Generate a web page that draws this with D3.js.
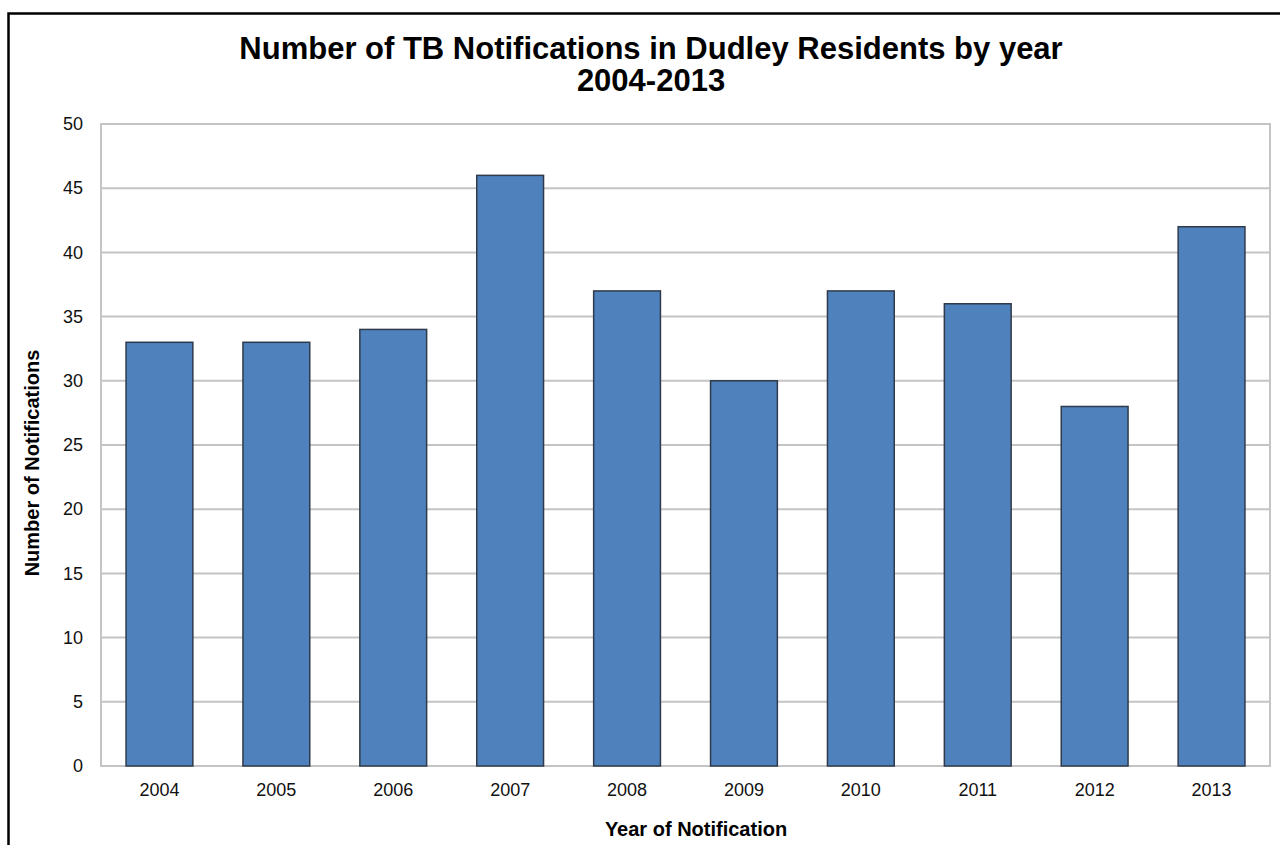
<!DOCTYPE html>
<html>
<head>
<meta charset="utf-8">
<script src="https://cdn.jsdelivr.net/npm/d3@7"></script>
<style>
  body { margin: 0; background: #fff; }
  text { font-family: "Liberation Sans", Arial, sans-serif; }
</style>
</head>
<body>
<script>
(function(){

//chart data
var years = ["2004", "2005", "2006", "2007", "2008", "2009", "2010", "2011", "2012", "2013"];
var notifications = [33, 33, 34, 46, 37, 30, 37, 36, 28, 42];
var yTicks = [0, 5, 10, 15, 20, 25, 30, 35, 40, 45, 50];
var titleLines = ["Number of TB Notifications in Dudley Residents by year", "2004-2013"];

var width = 1280, height = 845;
var plot = {left: 101, top: 124, right: 1270, bottom: 766};

var svg = d3.select("body").append("svg")
    .attr("width", width)
    .attr("height", height);

//outer frame (only left and top edges visible in the picture)
svg.append("rect")
    .attr("x", 8.5).attr("y", 13.5)
    .attr("width", 1300).attr("height", 900)
    .attr("fill", "none")
    .attr("stroke", "#000")
    .attr("stroke-width", 2.5);

//scales
var x = d3.scaleBand()
    .domain(years)
    .range([plot.left, plot.right])
    .paddingInner(0.4286)
    .paddingOuter(0.2143);

var y = d3.scaleLinear()
    .domain([0, 50])
    .range([plot.bottom, plot.top]);

//gridlines
svg.append("g")
    .selectAll("line")
    .data(yTicks)
    .enter()
    .append("line")
    .attr("x1", plot.left).attr("x2", plot.right)
    .attr("y1", function(d){ return y(d); })
    .attr("y2", function(d){ return y(d); })
    .attr("stroke", "#c4c4c4")
    .attr("stroke-width", 2);

//plot border
svg.append("rect")
    .attr("x", plot.left).attr("y", plot.top)
    .attr("width", plot.right - plot.left)
    .attr("height", plot.bottom - plot.top)
    .attr("fill", "none")
    .attr("stroke", "#c4c4c4")
    .attr("stroke-width", 2);

//bars
svg.append("g")
    .selectAll("rect")
    .data(notifications)
    .enter()
    .append("rect")
    .attr("x", function(d, i){ return x(years[i]); })
    .attr("y", function(d){ return y(d); })
    .attr("width", x.bandwidth())
    .attr("height", function(d){ return y(0) - y(d); })
    .attr("fill", "#4f81bd")
    .attr("stroke", "#2f3b4a")
    .attr("stroke-width", 1.5);

//y axis labels
var yAxis = d3.axisLeft(y)
    .tickValues(yTicks)
    .tickSize(0)
    .tickPadding(18);
var gy = svg.append("g")
    .attr("transform", "translate(" + plot.left + ",0)")
    .call(yAxis);
gy.select(".domain").remove();
gy.selectAll("text")
    .attr("font-size", 18)
    .attr("fill", "#111")
    .style("font-family", "'Liberation Sans', Arial, sans-serif");

//x axis labels
var xAxis = d3.axisBottom(x).tickSize(0).tickPadding(17);
var gx = svg.append("g")
    .attr("transform", "translate(0," + plot.bottom + ")")
    .call(xAxis);
gx.select(".domain").remove();
gx.selectAll("text")
    .attr("font-size", 18)
    .attr("fill", "#111")
    .style("font-family", "'Liberation Sans', Arial, sans-serif");

//title
svg.selectAll(".title")
    .data(titleLines)
    .enter()
    .append("text")
    .attr("class", "title")
    .attr("x", 651)
    .attr("y", function(d, i){ return 59 + i * 32; })
    .attr("text-anchor", "middle")
    .attr("font-size", 31)
    .attr("font-weight", "bold")
    .text(function(d){ return d; });

//axis titles
svg.append("text")
    .attr("x", 696).attr("y", 836)
    .attr("text-anchor", "middle")
    .attr("font-size", 20)
    .attr("font-weight", "bold")
    .text("Year of Notification");

svg.append("text")
    .attr("transform", "translate(39,463) rotate(-90)")
    .attr("text-anchor", "middle")
    .attr("font-size", 20)
    .attr("font-weight", "bold")
    .text("Number of Notifications");

})();
</script>
</body>
</html>
